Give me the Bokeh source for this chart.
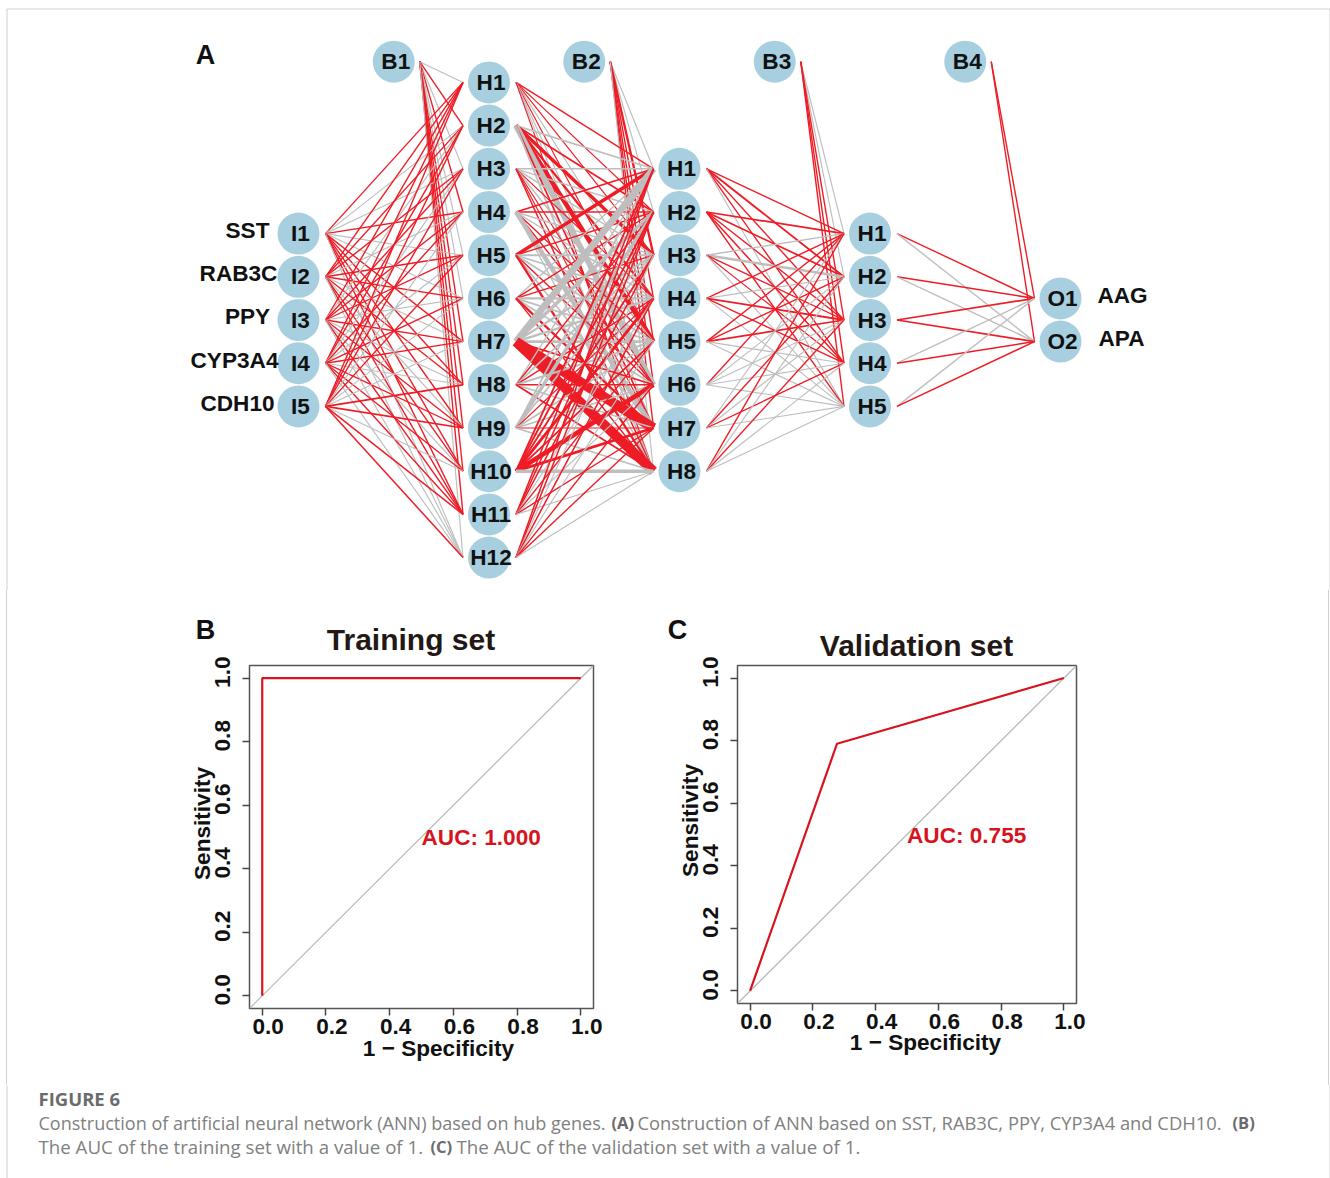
from bokeh.plotting import figure
from bokeh.models import ColumnDataSource, Range1d, LinearAxis, Label, FixedTicker, PrintfTickFormatter, Spacer
from bokeh.layouts import column, row
from bokeh.core.properties import value
from bokeh.embed import file_html
from bokeh.resources import INLINE

# ---------- data ----------
input_names = ["SST", "RAB3C", "PPY", "CYP3A4", "CDH10"]
output_names = ["AAG", "APA"]
layer_sizes = [5, 12, 8, 5, 2]
layer_prefix = ["I", "H", "H", "H", "O"]

# signed connection weights: positive (red), negative (grey); magnitude = stroke
w_input_h1 = [
    [1.2, -1.0, -1.0, 1.2, -1.0, -1.0, 1.2, 1.2, 1.2, 1.2, 1.2, -1.0],
    [1.2, 1.2, 1.2, -1.0, 1.2, 1.2, -1.0, 1.2, -1.0, 1.2, 1.2, -1.0],
    [1.2, -1.0, 1.2, 1.2, 1.2, -1.0, 1.2, -1.0, 1.2, -1.0, 1.2, -1.0],
    [1.2, 1.2, -1.0, 1.2, -1.0, 1.2, 1.2, -1.0, 1.2, 1.2, 1.2, -1.0],
    [1.2, 1.2, 1.2, -1.0, 1.2, -1.0, -1.0, 1.5, 1.5, -1.0, 1.3, 1.3],
]
w_bias1 = [-1.0, 1.2, -1.0, 1.2, -1.0, -1.0, 1.2, 1.2, 1.2, 1.2, 1.2, -1.0]
w_h1_h2 = [
    [1.2, 1.0, 1.0, -1.0, 1.0, -1.0, -1.0, 1.0],
    [-1.5, 1.5, 3.0, 2.0, 4.0, -5.0, 1.5, -1.5],
    [-1.2, -1.2, -1.2, 1.0, -1.2, 1.0, 1.0, 1.3],
    [1.5, 1.5, -1.2, -1.2, 1.2, 1.2, -4.0, -1.2],
    [3.0, 1.2, -1.8, -1.5, -1.5, 1.2, -1.5, 2.0],
    [-1.2, 1.2, 1.2, -1.8, -1.5, -1.5, 2.0, 1.2],
    [-6.0, -3.0, -2.0, -2.0, -2.5, 1.5, 8.5, 8.5],
    [-1.2, 1.2, -1.5, 1.2, -1.8, 1.2, -1.5, 1.5],
    [-1.5, -3.0, -1.5, 1.0, -1.5, -1.5, 1.0, -1.5],
    [1.6, 1.6, 1.6, 2.5, 1.6, 4.0, 2.5, -3.0],
    [1.3, 1.3, 1.3, -1.0, 1.2, -1.0, 1.2, -1.0],
    [1.3, 1.3, -1.0, 1.3, -1.0, 1.2, 1.2, -1.0],
]
w_bias2 = [-1.0, -1.0, 2.0, 1.2, 1.2, 1.2, 1.2, -1.0]
w_h2_h3 = [
    [1.2, 1.6, 1.2, 1.2, -1.0],
    [1.5, 1.5, 1.2, 1.3, 1.2],
    [-1.2, -2.2, 1.2, 1.0, -1.0],
    [1.2, -1.0, 1.6, 1.2, -1.0],
    [1.2, 1.2, 1.5, -1.0, -1.0],
    [1.2, -1.0, -1.0, -1.0, -1.0],
    [-1.0, 1.2, -1.0, 1.2, -1.0],
    [1.2, -1.0, 1.2, -1.0, -1.0],
]
w_bias3 = [-1.0, -1.0, 1.2, 1.2, 1.2]
w_h3_out = [
    [1.2, -1.2],
    [1.4, -1.2],
    [1.5, 1.5],
    [-1.2, 1.3],
    [-1.2, 1.3],
]
w_bias4 = [1.2, 1.2]

roc_train_x = [0.0, 0.0, 1.0]
roc_train_y = [0.0, 1.0, 1.0]
roc_valid_x = [0.0, 0.277, 1.0]
roc_valid_y = [0.0, 0.79, 1.0]
tick_values = [0.0, 0.2, 0.4, 0.6, 0.8, 1.0]

caption_title = "FIGURE 6"
caption_parts = [
    ("Construction of artificial neural network (ANN) based on hub genes.", False, 38, 1122, "18.05px"),
    ("(A)", True, 611, 1122, "16.5px"),
    ("Construction of ANN based on SST, RAB3C, PPY, CYP3A4 and CDH10.", False, 637, 1122, "18.35px"),
    ("(B)", True, 1232, 1122, "16.5px"),
    ("The AUC of the training set with a value of 1.", False, 38, 1146, "18.7px"),
    ("(C)", True, 430, 1146, "16.5px"),
    ("The AUC of the validation set with a value of 1.", False, 456, 1146, "18.75px"),
]

# ---------- styles ----------
RED = "#ee1c25"
GREY = "#bebebe"
NODE = "#a8cfdf"
ROC_RED = "#d7141d"
INK = "#111111"
CARD = "#d0d0d0"
FONT = value("Liberation Sans")
FS = "22.6px"
STROKE = 1.15

# ---------- network (data units: layers on x, node rows on y) ----------
PX_X, PX_Y = 190.5, 43.2
X0, Y0 = 298.0, 319.5
PAGE_L, PAGE_R = 0, 1330
NET_T, NET_B = 0, 590
ROC_T, ROC_B = 590, 1085
PAGE_B = 1178


def ypos(i, n):
    return (n - 1) / 2 - i


net = figure(width=PAGE_R - PAGE_L, height=NET_B - NET_T, output_backend="svg", toolbar_location=None,
             x_range=Range1d((PAGE_L - X0) / PX_X, (PAGE_R - X0) / PX_X),
             y_range=Range1d((Y0 - NET_B) / PX_Y, (Y0 - NET_T) / PX_Y),
             x_axis_location=None, y_axis_location=None, min_border=0, outline_line_color=None)
net.grid.visible = False


def nxp(px):
    return (px - X0) / PX_X


def nyp(px):
    return (Y0 - px) / PX_Y


net.line([nxp(6.5), nxp(6.5), nxp(1329.5), nxp(1329.5)], [nyp(NET_B + 2), nyp(8.5), nyp(8.5), nyp(NET_B + 2)],
         line_color=CARD, line_width=1)

GAP_OUT = 27 / PX_X
GAP_IN = 26 / PX_X
BIAS_Y = 5.98

seg = dict(x0=[], y0=[], x1=[], y1=[], c=[], w=[])


def add(xa, ya, xb, yb, v):
    seg["x0"].append(xa)
    seg["y0"].append(ya)
    seg["x1"].append(xb)
    seg["y1"].append(yb)
    seg["c"].append(RED if v > 0 else GREY)
    seg["w"].append(abs(v) * STROKE)


matrices = [w_input_h1, w_h1_h2, w_h2_h3, w_h3_out]
biases = [w_bias1, w_bias2, w_bias3, w_bias4]
for L, (m, b) in enumerate(zip(matrices, biases)):
    for j, v in enumerate(b):
        add(L + 0.5 + GAP_IN, BIAS_Y, L + 1 - GAP_IN, ypos(j, layer_sizes[L + 1]), v)
for L, m in enumerate(matrices):
    for i, r in enumerate(m):
        for j, v in enumerate(r):
            add(L + GAP_OUT, ypos(i, layer_sizes[L]), L + 1 - GAP_IN, ypos(j, layer_sizes[L + 1]), v)

net.segment("x0", "y0", "x1", "y1", source=ColumnDataSource(seg), line_color="c", line_width="w")

nx, ny, nt = [], [], []
for L, n in enumerate(layer_sizes):
    for i in range(n):
        nx.append(L)
        ny.append(ypos(i, n))
        nt.append(f"{layer_prefix[L]}{i + 1}")
for k in range(4):
    nx.append(k + 0.5)
    ny.append(BIAS_Y)
    nt.append(f"B{k + 1}")
src = ColumnDataSource(dict(x=nx, y=ny, t=nt))
net.scatter("x", "y", source=src, size=42, fill_color=NODE, line_color=None)
net.text("x", "y", text="t", source=src, text_font=FONT, text_font_style="bold", text_font_size=FS,
         text_align="center", text_baseline="middle", text_color=INK, x_offset=2, y_offset=0)

in_x = [247, 238, 247, 234, 237]
net.text([nxp(v) for v in in_x], [ypos(i, 5) + 0.07 for i in range(5)], text=input_names,
         text_font=FONT, text_font_style="bold", text_font_size=FS, text_align="center",
         text_baseline="middle", text_color=INK)
net.text([nxp(1122), nxp(1121)], [ypos(i, 2) + 0.07 for i in range(2)], text=output_names,
         text_font=FONT, text_font_style="bold", text_font_size=FS, text_align="center",
         text_baseline="middle", text_color=INK)
net.text([nxp(205)], [nyp(54)], text=["A"], text_font=FONT, text_font_style="bold",
         text_font_size="27px", text_align="center", text_baseline="middle", text_color=INK)


# ---------- ROC panels ----------
def roc(xs, ys, fig_l, fig_r, fl, fr, ft, fb, title, title_cx, title_cy, tag, tag_cx, tag_cy,
        xl_cx, xl_cy, yl_cx, yl_cy, auc, x_off, y_off):
    p = figure(width=fig_r - fig_l, height=ROC_B - ROC_T, output_backend="svg", toolbar_location=None,
               x_range=Range1d(-0.04, 1.04), y_range=Range1d(-0.04, 1.04),
               x_axis_location=None, y_axis_location=None,
               min_border_left=fl - fig_l, min_border_right=fig_r - fr,
               min_border_top=ft - ROC_T, min_border_bottom=ROC_B - fb,
               outline_line_color="#555555", outline_line_width=1.5)
    p.grid.visible = False
    ux, uy = (fr - fl) / 1.08, (fb - ft) / 1.08

    p.extra_x_ranges["lab"] = Range1d(-0.04 - x_off / ux, 1.04 - x_off / ux)
    p.extra_y_ranges["lab"] = Range1d(-0.04 - y_off / uy, 1.04 - y_off / uy)

    for axis_cls, place, orient, standoff in ((0, "below", "horizontal", 3), (1, "left", "vertical", 12)):
        tick_ax = LinearAxis(ticker=FixedTicker(ticks=tick_values),
                             major_label_overrides={v: "" for v in tick_values},
                             major_tick_in=0, major_tick_out=7, minor_tick_out=0, minor_tick_in=0,
                             axis_line_color=None, major_tick_line_color="#444444", major_tick_line_width=1.5,
                             major_label_standoff=0)
        lab_ax = LinearAxis(ticker=FixedTicker(ticks=tick_values), major_tick_in=0, major_tick_out=0,
                            minor_tick_out=0, minor_tick_in=0, axis_line_color=None,
                            formatter=PrintfTickFormatter(format="%.1f"),
                            major_label_text_font="Liberation Sans", major_label_text_font_style="bold",
                            major_label_text_font_size="22.6px", major_label_text_color=INK,
                            major_label_standoff=standoff, major_label_orientation=orient)
        if axis_cls == 0:
            lab_ax.x_range_name = "lab"
        else:
            lab_ax.y_range_name = "lab"
        p.add_layout(tick_ax, place)
        p.add_layout(lab_ax, place)

    p.line([-0.04, 1.04], [-0.04, 1.04], line_color="#b5b5b5", line_width=1.2)
    p.line(xs, ys, line_color=ROC_RED, line_width=2.2)

    def lab(txt, cx, cy, size, place, color=INK, angle=0):
        p.add_layout(Label(x=cx - fig_l, y=cy - ROC_T, x_units="canvas", y_units="canvas", text=txt,
                           text_font="Liberation Sans", text_font_style="bold",
                           text_font_size=size, text_color=color, text_align="center", text_baseline="middle",
                           angle=angle), place)

    lab(title, title_cx, title_cy, "30px", "above", "#231815")
    lab(tag, tag_cx, tag_cy, "27px", "above")
    lab("1 \u2212 Specificity", xl_cx, xl_cy, FS, "below")
    lab("Sensitivity", yl_cx, yl_cy, FS, "left", angle=1.5708)
    p.text([0.5], [0.497], text=[auc], text_font=FONT, text_font_style="bold", text_font_size=FS,
           text_color=ROC_RED, text_align="left", text_baseline="middle")
    return p


pb = roc(roc_train_x, roc_train_y, 7, 660, 249, 593, 665, 1008, "Training set", 410.5, 639, "B", 205, 629,
         438, 1048, 202, 823, "AUC: 1.000", 6, 6)
pc = roc(roc_valid_x, roc_valid_y, 660, 1328, 737, 1076, 665, 1003, "Validation set", 916, 645, "C", 677, 629,
         925, 1042, 690, 820, "AUC: 0.755", 6, 6)

# ---------- caption ----------
cap = figure(width=PAGE_R - PAGE_L, height=PAGE_B - ROC_B, output_backend="svg", toolbar_location=None,
             x_range=Range1d(PAGE_L, PAGE_R), y_range=Range1d(PAGE_B, ROC_B),
             x_axis_location=None, y_axis_location=None, min_border=0, outline_line_color=None)
cap.grid.visible = False
cap.line([6.5, 6.5], [ROC_B, PAGE_B], line_color=CARD, line_width=1)
cap.line([1329.5, 1329.5], [ROC_B, PAGE_B], line_color=CARD, line_width=1)
cap.text([38], [1098], text=[caption_title], text_font=value("Open Sans"), text_font_style="bold",
         text_font_size="18.5px", text_color="#6b6b6b", text_baseline="middle")
for txt, bold, x, y, size in caption_parts:
    cap.text([x], [y], text=[txt], text_font=value("Open Sans"), text_font_style="bold" if bold else "normal",
             text_font_size=size, text_color="#6b6b6b" if bold else "#808080", text_baseline="middle")

roc_h = ROC_B - ROC_T
band = row(Spacer(width=6, height=roc_h), Spacer(width=1, height=roc_h, styles={"background-color": CARD}),
           column(pb, spacing=0), column(pc, spacing=0),
           Spacer(width=1, height=roc_h, styles={"background-color": CARD}), Spacer(width=1, height=roc_h),
           spacing=0)
page = column(net, band, cap, spacing=0)
open("out.html", "w").write(file_html(page, INLINE))
